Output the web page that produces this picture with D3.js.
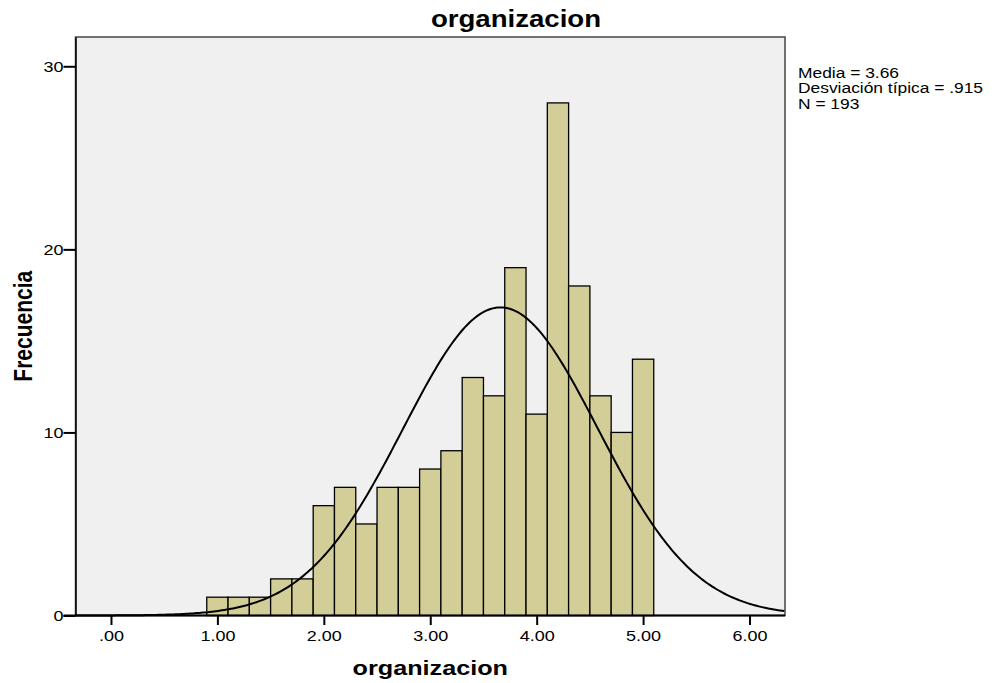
<!DOCTYPE html>
<html>
<head>
<meta charset="utf-8">
<script src="https://cdn.jsdelivr.net/npm/d3@7"></script>
<style>
  body { margin: 0; background: #fff; }
  text { font-family: "Liberation Sans", Arial, sans-serif; }
</style>
</head>
<body>
<svg width="1000" height="683"></svg>
<script>
// histogram bins (lower edges), width 0.2
var binStarts = [0.9, 1.1, 1.3, 1.5, 1.7, 1.9, 2.1, 2.3, 2.5, 2.7, 2.9, 3.1, 3.3, 3.5, 3.7, 3.9, 4.1, 4.3, 4.5, 4.7, 4.9];
var counts = [1, 1, 1, 2, 2, 6, 7, 5, 7, 7, 8, 9, 13, 12, 19, 11, 28, 18, 12, 10, 14];
var binWidth = 0.2;
var xTicks = [0, 1, 2, 3, 4, 5, 6];
var yTicks = [0, 10, 20, 30];
var mean = 3.66, sd = 0.915, n = 193;
var statsLines = ["Media = 3.66", "Desviación típica = .915", "N = 193"];

var loadVis = function() {
    var svg = d3.select("svg");

    var left = 75.5, right = 785, top = 37, bottom = 615.5;
    var sx = 1.2; // the text in the original is drawn a bit wide

    var x = d3.scaleLinear()
        .domain([-1/3, 19/3])
        .range([left, right]);

    var y = d3.scaleLinear()
        .domain([0, 31.6])
        .range([bottom, top]);

    // plot background
    svg.append("rect")
        .attr("x", left).attr("y", top)
        .attr("width", right - left).attr("height", bottom - top)
        .attr("fill", "#f0f0f0")
        .attr("stroke", "#444")
        .attr("stroke-width", 1.5);

    // bars
    svg.append("g")
        .selectAll("rect")
        .data(counts)
        .enter().append("rect")
            .attr("x", function(d, i) { return x(binStarts[i]); })
            .attr("y", function(d) { return y(d); })
            .attr("width", function(d, i) { return x(binStarts[i] + binWidth) - x(binStarts[i]); })
            .attr("height", function(d) { return bottom - y(d); })
            .attr("fill", "#d3ce97")
            .attr("stroke", "#000")
            .attr("stroke-width", 1.3);

    // normal curve
    var pts = d3.range(-1/3, 19/3 + 0.001, 0.02).map(function(v) {
        var z = (v - mean) / sd;
        return [v, n * binWidth * Math.exp(-0.5 * z * z) / (sd * Math.sqrt(2 * Math.PI))];
    });
    svg.append("path")
        .datum(pts)
        .attr("fill", "none")
        .attr("stroke", "#000")
        .attr("stroke-width", 2)
        .attr("d", d3.line()
            .x(function(d) { return x(d[0]); })
            .y(function(d) { return y(d[1]); }));

    // y axis
    var yAxis = svg.append("g")
        .attr("transform", "translate(" + left + ",0)")
        .call(d3.axisLeft(y).tickValues(yTicks).tickFormat(d3.format("d")).tickSize(12).tickSizeOuter(0));
    yAxis.select(".domain").attr("stroke", "#000").attr("stroke-width", 1.5);
    yAxis.selectAll(".tick line").attr("stroke-width", 2);
    yAxis.selectAll(".tick text")
        .attr("font-size", 15).attr("x", -12 / sx).attr("dy", "0.36em")
        .attr("transform", "scale(" + sx + ",1)")
        .style("font-family", "Liberation Sans, Arial, sans-serif");

    // x axis baseline extends to the left like y ticks
    svg.append("line")
        .attr("x1", left - 12).attr("x2", right)
        .attr("y1", bottom).attr("y2", bottom)
        .attr("stroke", "#000").attr("stroke-width", 2);

    var xAxis = svg.append("g")
        .attr("transform", "translate(0," + (bottom + 0.5) + ")")
        .call(d3.axisBottom(x).tickValues(xTicks)
            .tickFormat(function(d) { return d === 0 ? ".00" : d3.format(".2f")(d); })
            .tickSize(9).tickSizeOuter(0));
    xAxis.select(".domain").remove();
    xAxis.selectAll(".tick line").attr("stroke-width", 2);
    xAxis.selectAll(".tick text")
        .attr("font-size", 15).attr("y", 14)
        .attr("transform", "scale(" + sx + ",1)")
        .style("font-family", "Liberation Sans, Arial, sans-serif");

    // titles
    svg.append("text")
        .attr("transform", "translate(516,27) scale(" + sx + ",1)")
        .attr("text-anchor", "middle")
        .attr("font-size", 23).attr("font-weight", "bold")
        .text("organizacion");

    svg.append("text")
        .attr("transform", "translate(" + ((left + right) / 2) + ",675) scale(" + sx + ",1)")
        .attr("text-anchor", "middle")
        .attr("font-size", 21).attr("font-weight", "bold")
        .text("organizacion");

    svg.append("text")
        .attr("transform", "translate(32," + ((top + bottom) / 2) + ") scale(" + sx + ",1) rotate(-90)")
        .attr("text-anchor", "middle")
        .attr("font-size", 21).attr("font-weight", "bold")
        .text("Frecuencia");

    // stats
    svg.append("g")
        .selectAll("text")
        .data(statsLines)
        .enter().append("text")
            .attr("transform", function(d, i) {
                return "translate(798," + (77.5 + i * 15.5) + ") scale(" + sx + ",1)";
            })
            .attr("font-size", 14.5)
            .text(function(d) { return d; });
}

document.addEventListener('DOMContentLoaded', loadVis, false);
</script>
</body>
</html>
